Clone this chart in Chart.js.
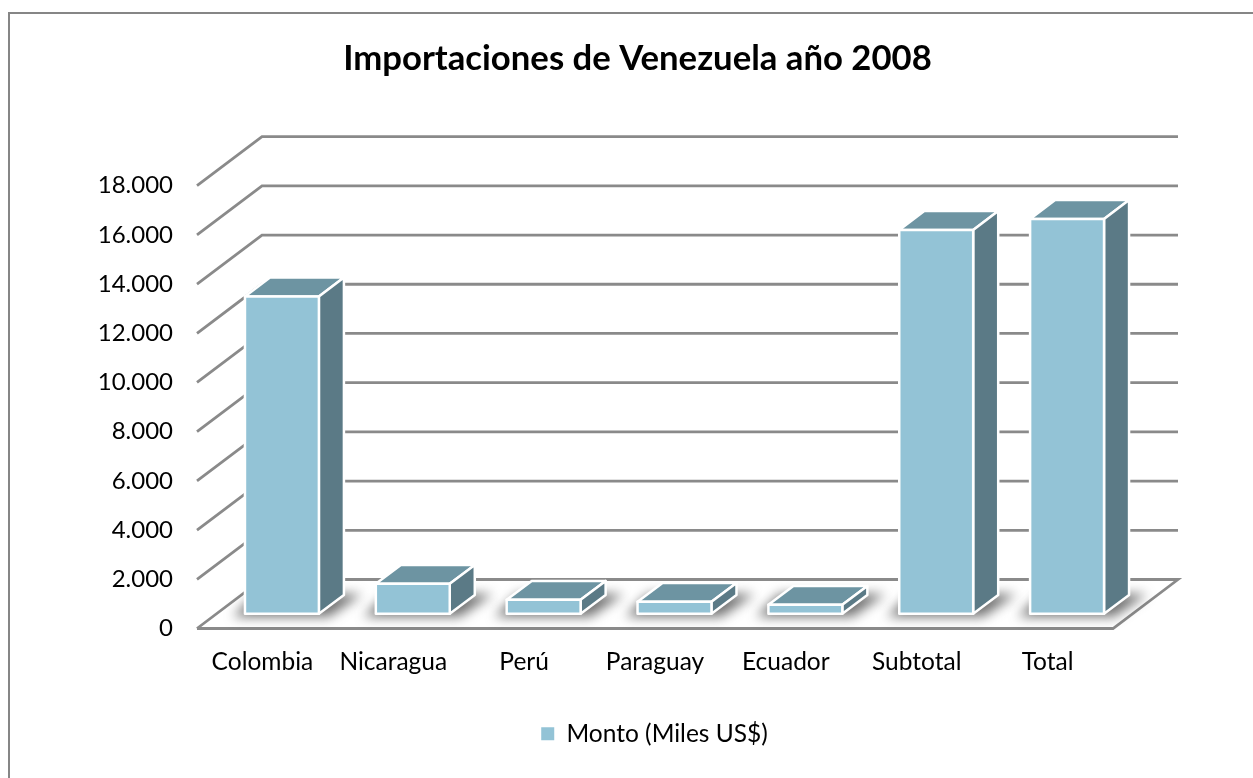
<!DOCTYPE html>
<html>
<head>
<meta charset="utf-8">
<title>Importaciones de Venezuela</title>
<script src="https://cdn.jsdelivr.net/npm/chart.js@4/dist/chart.umd.min.js"></script>
<style>
  html, body { margin: 0; padding: 0; background: #fff; overflow: hidden; }
  #chart { display: block; position: absolute; left: 0; top: 0; }
  /* marco del grafico: solo arriba y a la izquierda */
  #frame { position: absolute; left: 8px; top: 12px; right: 0; bottom: 0;
           border-left: 2px solid #868686; border-top: 2px solid #868686; }
</style>
</head>
<body>
<div id="frame"></div>
<canvas id="chart" width="1253" height="778"></canvas>
<script>
const categories = ['Colombia', 'Nicaragua', 'Perú', 'Paraguay', 'Ecuador', 'Subtotal', 'Total'];
const montos = [12900, 1220, 570, 490, 365, 15600, 16050];
const serieNombre = 'Monto (Miles US$)';
const fontName = 'Lato';

// profundidad del falso 3D
const wallDx = 65, wallDy = -49;      // fondo respecto al frente
const barStart = 0.3, barDepth = 0.385; // posicion y fondo de la barra

const plano3d = {
  id: 'plano3d',
  beforeDatasetsDraw(chart) {
    const { ctx, scales: { x, y } } = chart;
    ctx.save();
    ctx.strokeStyle = '#8a8a8a';
    ctx.lineWidth = 2.8;
    ctx.lineJoin = 'miter';
    y.ticks.forEach(t => {
      const py = y.getPixelForValue(t.value);
      ctx.beginPath();
      ctx.moveTo(x.left, py);
      ctx.lineTo(x.left + wallDx, py + wallDy);
      ctx.lineTo(x.right + wallDx, py + wallDy);
      if (t.value === 0) {
        ctx.lineTo(x.right, py);
        ctx.lineTo(x.left, py);
      }
      ctx.stroke();
    });
    ctx.restore();
  },
  // las barras se pintan aqui como cajas, con la geometria que da Chart.js
  beforeDatasetDraw(chart, args) {
    const { ctx } = chart;
    const offX = wallDx * barStart, offY = wallDy * barStart;
    const dx = wallDx * barDepth, dy = wallDy * barDepth;
    const bars = args.meta.data;

    ctx.save();
    ctx.filter = 'blur(6px)';
    ctx.fillStyle = 'rgba(60,60,60,0.72)';
    bars.forEach(b => {
      const l = b.x - b.width / 2 + offX, r = b.x + b.width / 2 + offX, bot = b.base + offY;
      ctx.beginPath();
      ctx.moveTo(l - 12, bot + 3);
      ctx.lineTo(r + 10, bot + 3);
      ctx.lineTo(r + dx + 18, bot + dy - 1);
      ctx.lineTo(l + dx - 14, bot + dy - 1);
      ctx.closePath();
      ctx.fill();
    });
    ctx.restore();

    ctx.save();
    ctx.strokeStyle = '#fff';
    ctx.lineWidth = 2.5;
    ctx.lineJoin = 'round';
    bars.forEach(b => {
      const l = b.x - b.width / 2 + offX, r = b.x + b.width / 2 + offX;
      const top = b.y + offY, bot = b.base + offY;
      const face = (pts, color) => {
        ctx.beginPath();
        pts.forEach((p, i) => i ? ctx.lineTo(p[0], p[1]) : ctx.moveTo(p[0], p[1]));
        ctx.closePath();
        ctx.fillStyle = color;
        ctx.fill();
        ctx.stroke();
      };
      face([[l, top], [r, top], [r + dx, top + dy], [l + dx, top + dy]], '#6d94a2');
      face([[r, top], [r + dx, top + dy], [r + dx, bot + dy], [r, bot]], '#5b7a86');
      face([[l, top], [r, top], [r, bot], [l, bot]], '#93c3d6');
    });
    ctx.restore();
    return false;
  },
  afterLayout(chart) {
    // titulo y leyenda del original no estan centrados sobre el area del grafico
    chart.titleBlock.left += 81;
    chart.titleBlock.right += 81;
    chart.legend.left += 98;
    chart.legend.right += 98;
  }
};

new Chart(document.getElementById('chart'), {
  type: 'bar',
  data: {
    labels: categories,
    datasets: [{
      label: serieNombre,
      data: montos,
      backgroundColor: '#93c3d6',
      borderWidth: 0,
      categoryPercentage: 1,
      barPercentage: 0.565
    }]
  },
  options: {
    responsive: false,
    animation: false,
    layout: { padding: { left: 0, right: 140, top: 0, bottom: 22 } },
    plugins: {
      title: {
        display: true,
        text: 'Importaciones de Venezuela año 2008',
        color: '#000',
        font: { family: fontName, size: 34.7, weight: 'bold' },
        padding: { top: 38, bottom: 106 }
      },
      legend: {
        position: 'bottom',
        labels: {
          color: '#000',
          font: { family: fontName, size: 24.5 },
          boxWidth: 13,
          boxHeight: 13,
          padding: 32
        }
      },
      tooltip: { enabled: false }
    },
    scales: {
      x: {
        grid: { display: false },
        border: { display: false },
        ticks: { color: '#000', font: { family: fontName, size: 24.5 }, maxRotation: 0, autoSkip: false, padding: 11 },
        afterFit(s) { s.height = 61; }
      },
      y: {
        min: 0,
        max: 18000,
        grid: { display: false, drawTicks: false },
        border: { display: false },
        ticks: {
          stepSize: 2000,
          color: '#000',
          padding: 24,
          font: { family: fontName, size: 24 },
          callback: v => v.toLocaleString('de-DE')
        },
        afterFit(s) { s.width = 197; }
      }
    }
  },
  plugins: [plano3d]
});
</script>
</body>
</html>
